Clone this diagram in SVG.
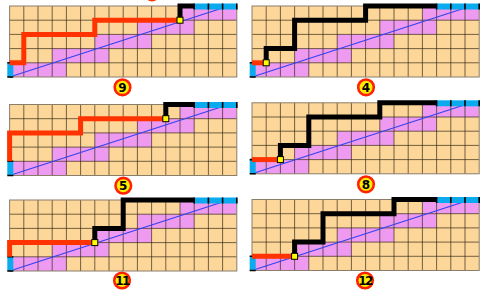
<svg xmlns="http://www.w3.org/2000/svg" width="485" height="294" viewBox="0 0 485 294">
<style>
.cell{fill:#FDD699}
.pink{fill:#EE9AF0}
.gl{stroke:#2a2010;stroke-opacity:0.65;stroke-width:1;fill:none}
.border{fill:none;stroke:#8a7e6a;stroke-width:1}
.diag{stroke:#3344EE;stroke-width:1.2}
.bar{fill:#0AAAEE}
.tick{stroke:#000;stroke-width:1.6}
.red{fill:none;stroke:#FF3300;stroke-width:5;stroke-linejoin:miter;stroke-linecap:butt}
.blk{fill:none;stroke:#000;stroke-width:5;stroke-linejoin:miter;stroke-linecap:butt}
.mark{fill:#FFFF00;stroke:#000;stroke-width:1}
.lab circle{fill:#FFEE00;stroke:#FF2200;stroke-width:2.6}
.lab text{font-family:"DejaVu Sans",sans-serif;font-weight:bold;font-size:12px;fill:#000;text-anchor:middle}
</style>
<defs>
<g id="board">
<rect class="cell" x="0" y="0" width="227.2" height="71"/>
<rect class="pink" x="0" y="56.8" width="56.8" height="14.2"/>
<rect class="pink" x="42.6" y="42.6" width="56.8" height="14.2"/>
<rect class="pink" x="85.2" y="28.4" width="56.8" height="14.2"/>
<rect class="pink" x="127.8" y="14.2" width="56.8" height="14.2"/>
<rect class="pink" x="170.4" y="0" width="56.8" height="14.2"/>
<path class="gl" d="M14.2,0V71M28.4,0V71M42.6,0V71M56.8,0V71M71,0V71M85.2,0V71M99.4,0V71M113.6,0V71M127.8,0V71M142,0V71M156.2,0V71M170.4,0V71M184.6,0V71M198.8,0V71M213,0V71M0,14.2H227.2M0,28.4H227.2M0,42.6H227.2M0,56.8H227.2"/>
<rect class="border" x="0" y="0" width="227.2" height="71"/>
<line class="diag" x1="0" y1="71" x2="213" y2="2"/>
<rect class="bar" x="184.6" y="-2.5" width="42.6" height="6"/>
<path class="tick" d="M184.6,-2.5V3.5M198.8,-2.5V3.5M213,-2.5V3.5M227.2,-2.5V3.5"/>
<rect class="bar" x="-2.3" y="56.8" width="6" height="14.2"/>
<path class="tick" d="M-2.3,56.8H3.7M-2.3,71H3.7"/>
</g>
</defs>
<circle cx="152" cy="-6" r="7.5" fill="#FF3300"/>
<g id="panel-9" transform="translate(9.6,6)">
<use href="#board"/>
<path class="red" d="M0,56.8H14.2V28.4H85.2V14.2H170.4"/>
<path class="blk" d="M170.4,14.2V0H184.6"/>
<rect class="mark" x="167.4" y="11.2" width="6" height="6"/>
</g>
<g id="panel-4" transform="translate(252,6)">
<use href="#board"/>
<path class="red" d="M0,56.8H14.2"/>
<path class="blk" d="M14.2,56.8V42.6H42.6V14.2H113.6V0H184.6"/>
<rect class="mark" x="11.2" y="53.8" width="6" height="6"/>
</g>
<g id="panel-5" transform="translate(9.6,104.5)">
<use href="#board"/>
<path class="red" d="M0,56.8V28.4H71V14.2H156.2"/>
<path class="blk" d="M156.2,14.2V0H184.6"/>
<rect class="mark" x="153.2" y="11.2" width="6" height="6"/>
</g>
<g id="panel-8" transform="translate(252,102.8)">
<use href="#board"/>
<path class="red" d="M0,56.8H28.4"/>
<path class="blk" d="M28.4,56.8V42.6H56.8V14.2H127.8V0H184.6"/>
<rect class="mark" x="25.4" y="53.8" width="6" height="6"/>
</g>
<g id="panel-11" transform="translate(9.6,200)">
<use href="#board"/>
<path class="red" d="M0,56.8V42.6H85.2"/>
<path class="blk" d="M85.2,42.6V28.4H113.6V0H184.6"/>
<rect class="mark" x="82.2" y="39.6" width="6" height="6"/>
</g>
<g id="panel-12" transform="translate(252,199.5)">
<use href="#board"/>
<path class="red" d="M0,56.8H42.6"/>
<path class="blk" d="M42.6,56.8V42.6H71V14.2H142V0H184.6"/>
<rect class="mark" x="39.6" y="53.8" width="6" height="6"/>
</g>
<g id="labels" class="lab">
<g id="label-9"><circle cx="122.5" cy="87.3" r="7.8"/><text x="122.5" y="91.6">9</text></g>
<g id="label-4"><circle cx="366" cy="87.3" r="7.8"/><text x="366" y="91.6">4</text></g>
<g id="label-5"><circle cx="123.3" cy="185.7" r="7.8"/><text x="123.3" y="190">5</text></g>
<g id="label-8"><circle cx="366" cy="184.3" r="7.8"/><text x="366" y="188.6">8</text></g>
<g id="label-11"><circle cx="122" cy="280.5" r="7.8"/><text x="122" y="284.8" letter-spacing="-1.5">11</text></g>
<g id="label-12"><circle cx="365" cy="280.5" r="7.8"/><text x="365" y="284.8" letter-spacing="-1.5">12</text></g>
</g>
</svg>
